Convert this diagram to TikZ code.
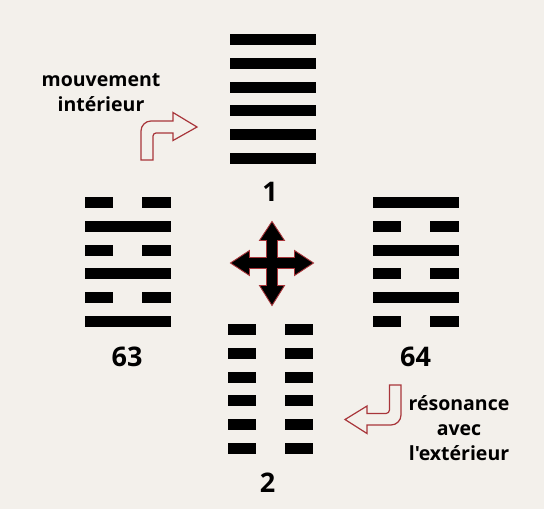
\documentclass[tikz,border=0pt]{standalone}
\usepackage{fontspec}
\newfontfamily\labfont{Open Sans}
\definecolor{bg}{HTML}{F3F0EB}
\definecolor{arrred}{HTML}{A8353A}
\newcommand\hxyang[3]{\fill[hexbar] (#1,#3-5.5) rectangle (#2,#3+5.5);}
\newcommand\hxyin[5]{\fill[hexbar] (#1,#5-5.5) rectangle (#2,#5+5.5); \fill[hexbar] (#3,#5-5.5) rectangle (#4,#5+5.5);}
\begin{document}
\begin{tikzpicture}[x=1pt,y=-1pt,
  hexbar/.style={fill=black},
  numlabel/.style={font=\labfont\bfseries\fontsize{27}{27}\selectfont, inner sep=0pt},
  txtlabel/.style={font=\labfont\bfseries\fontsize{19.5}{25}\selectfont, inner sep=0pt, anchor=base},
  bentarrow/.style={draw=arrred, line width=1.2pt, fill=none, line join=miter},
  crossarrow/.style={draw=arrred, line width=0.9pt, fill=black, line join=miter}]
\fill[bg] (0,0) rectangle (544,509);
\useasboundingbox (0,0) rectangle (544,509);

% Hexagram 1 (top)
\foreach \i in {0,...,5} {\hxyang{230}{316}{39.5+\i*23.8}}
% Hexagram 63 (left)
\foreach \i in {0,2,4} {\hxyin{85}{113}{142}{171}{202.5+\i*23.8}}
\foreach \i in {1,3,5} {\hxyang{85}{171}{202.5+\i*23.8}}
% Hexagram 64 (right)
\foreach \i in {0,2,4} {\hxyang{373}{459}{202.5+\i*23.8}}
\foreach \i in {1,3,5} {\hxyin{373}{401}{430}{459}{202.5+\i*23.8}}
% Hexagram 2 (bottom)
\foreach \i in {0,...,5} {\hxyin{228}{256}{285}{313}{329.7+\i*23.7}}

% numbers
\node[numlabel] (n1) at (270,191.5) {1};
\node[numlabel] (n63) at (127,357) {63};
\node[numlabel] (n64) at (415.5,357) {64};
\node[numlabel] (n2) at (267.7,482.3) {2};

% texts
\node[txtlabel] (mv1) at (101,86.7) {mouvement};
\node[txtlabel] (mv2) at (101,111.7) {intérieur};
\node[txtlabel] (rs1) at (459,410) {résonance};
\node[txtlabel] (rs2) at (459,435) {avec};
\node[txtlabel] (rs3) at (459,460.7) {l'extérieur};

% bent arrow: inner movement
\draw[bentarrow] (141,160) -- (141,131) .. controls (141,125.5) and (145.5,121) .. (151,121)
  -- (173,121) -- (173,112.5) -- (197,127) -- (173,140.5) -- (173,133) -- (156,133)
  .. controls (154.3,133) and (153,134.3) .. (153,136) -- (153,160) -- cycle;

% bent arrow: resonance with outside
\draw[bentarrow] (389.5,385) -- (401,385) -- (401,415) .. controls (401,420.5) and (396.5,425) .. (391,425)
  -- (367,425) -- (367,433.5) -- (345,419.5) -- (367,406) -- (367,413.5) -- (386,413.5)
  .. controls (387.9,413.5) and (389.5,411.9) .. (389.5,410) -- cycle;

% four-way arrow
\begin{scope}[shift={(272,263)}]
\draw[crossarrow] (0,-41.5) -- (12.5,-22.5) -- (5.5,-22.5) -- (5.5,-5.5) -- (22.5,-5.5) -- (22.5,-12.5)
  -- (41.5,0) -- (22.5,12.5) -- (22.5,5.5) -- (5.5,5.5) -- (5.5,22.5) -- (12.5,22.5)
  -- (0,42.5) -- (-12.5,22.5) -- (-5.5,22.5) -- (-5.5,5.5) -- (-22.5,5.5) -- (-22.5,12.5)
  -- (-41.5,0) -- (-22.5,-12.5) -- (-22.5,-5.5) -- (-5.5,-5.5) -- (-5.5,-22.5) -- (-12.5,-22.5) -- cycle;
\end{scope}
\end{tikzpicture}
\end{document}
